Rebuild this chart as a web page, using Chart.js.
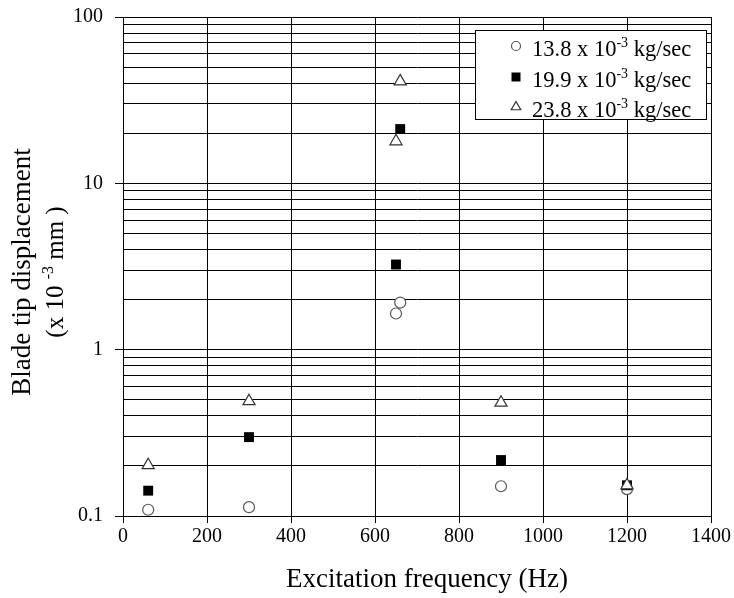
<!DOCTYPE html>
<html><head><meta charset="utf-8">
<script src="https://cdn.jsdelivr.net/npm/chart.js@4"></script>
<style>html,body{margin:0;padding:0;background:#fff}#w{width:734px;height:598px}</style>
</head><body><div id="w"><canvas id="c" width="734" height="598"></canvas></div>
<script>
const frequencies = [60, 300, 650, 660, 900, 1200];
const flow138 = [0.109, 0.113, 1.65, 1.92, 0.151, 0.145];
const flow199 = [0.142, 0.298, 3.25, 21.2, 0.217, 0.153];
const flow238 = [0.202, 0.49, 17.9, 41, 0.48, 0.153];
const seriesLabels = ['13.8 x 10', '19.9 x 10', '23.8 x 10'];
const xTicks = [0, 200, 400, 600, 800, 1000, 1200, 1400];
const yMajor = [0.1, 1, 10, 100];
const xTitle = 'Excitation frequency (Hz)';
const yTitle = 'Blade tip displacement';

const SERIF = '"Liberation Serif", "Times New Roman", serif';
const pts = (ys) => frequencies.map((x, i) => ({x, y: ys[i]}));

const styles = [
  {pointStyle:'circle', pointRadius:5.5, backgroundColor:'#fff', borderColor:'#555', borderWidth:1.2, order:3},
  {pointStyle:'rect', pointRadius:7, backgroundColor:'#000', borderColor:'#000', borderWidth:0, order:2},
  {pointStyle:'triangle', pointRadius:7, backgroundColor:'#fff', borderColor:'#333', borderWidth:1.2, order:1},
];
const series = [flow138, flow199, flow238];

const overlay = {
  id:'overlay',
  afterDraw(chart){
    const ctx = chart.ctx;
    ctx.save();
    ctx.fillStyle='#000'; ctx.textAlign='center'; ctx.textBaseline='middle';
    ctx.font='27px '+SERIF;
    ctx.fillText(xTitle, 427, 580);
    ctx.restore();
    ctx.save();
    ctx.fillStyle = '#000';
    ctx.textAlign = 'center';
    ctx.textBaseline = 'middle';
    ctx.translate(23, 272);
    ctx.rotate(-Math.PI/2);
    ctx.font = '27px ' + SERIF;
    ctx.fillText(yTitle, 0, 0);
    const a = '(x 10 ', b = '-3', c = ' mm )';
    ctx.font = '25px ' + SERIF; const wa = ctx.measureText(a).width, wc = ctx.measureText(c).width;
    ctx.font = '16px ' + SERIF; const wb = ctx.measureText(b).width;
    let x0 = -(wa+wb+wc)/2;
    ctx.textAlign = 'left';
    ctx.font = '25px ' + SERIF; ctx.fillText(a, x0, 33);
    ctx.font = '16px ' + SERIF; ctx.fillText(b, x0+wa, 26);
    ctx.font = '25px ' + SERIF; ctx.fillText(c, x0+wa+wb, 33);
    ctx.restore();

    ctx.save();
    const L=475, T=30, W=231, H=89;
    ctx.fillStyle='#fff'; ctx.fillRect(L,T,W,H);
    ctx.strokeStyle='#000'; ctx.lineWidth=1; ctx.strokeRect(L+0.5,T+0.5,W,H);
    const rowY=[46,77,107];
    const mx=516;
    seriesLabels.forEach((lab,i)=>{
      const s = styles[i], y=rowY[i];
      ctx.fillStyle=s.backgroundColor; ctx.strokeStyle=s.borderColor; ctx.lineWidth=s.borderWidth||0;
      ctx.beginPath();
      if(s.pointStyle==='circle'){ctx.arc(mx,y,4.5,0,Math.PI*2);ctx.fill();ctx.stroke();}
      else if(s.pointStyle==='rect'){ctx.fillRect(mx-4.5,y-4.5,9,9);}
      else {const r=5.5;ctx.moveTo(mx,y-r);ctx.lineTo(mx+r*0.866,y+r*0.5);ctx.lineTo(mx-r*0.866,y+r*0.5);ctx.closePath();ctx.fill();ctx.stroke();}
      ctx.fillStyle='#000'; ctx.textAlign='left'; ctx.textBaseline='middle';
      ctx.font='22.5px '+SERIF; let x=532; ctx.fillText(lab,x,y+4); x+=ctx.measureText(lab).width;
      ctx.font='14px '+SERIF; ctx.fillText('-3',x,y-3); x+=ctx.measureText('-3').width;
      ctx.font='22.5px '+SERIF; ctx.fillText(' kg/sec',x,y+4);
    });
    ctx.restore();
  }
};

new Chart(document.getElementById('c'), {
  type:'scatter',
  data:{datasets: series.map((ys,i)=>Object.assign({label:seriesLabels[i], data:pts(ys)}, styles[i]))},
  options:{
    responsive:false, animation:false, devicePixelRatio:1,
    layout:{padding:{top:17,right:23,left:0,bottom:0}},
    plugins:{legend:{display:false}, tooltip:{enabled:false}},
    scales:{
      x:{type:'linear', min:0, max:1400,
        afterBuildTicks(s){ s.ticks = xTicks.map(v=>({value:v})); },
        afterFit(s){ s.height = 82; s.paddingLeft = 0; s.paddingRight = 0; },
        ticks:{color:'#000', font:{family:SERIF, size:20}, padding:2, maxRotation:0,
          callback(v){ return String(v); }},
        grid:{color:'#000', lineWidth:1, tickLength:7, tickColor:'#000'},
        border:{color:'#000', width:1},
        title:{display:false}
      },
      y:{type:'logarithmic', min:0.1, max:100,
        afterBuildTicks(s){ const t=[]; [0.1,1,10].forEach(d=>{for(let k=1;k<=9;k++) t.push({value:+(d*k).toPrecision(3)});}); t.push({value:100}); s.ticks=t; },
        afterFit(s){ s.width = 123; s.paddingTop = 0; s.paddingBottom = 0; },
        ticks:{color:'#000', font:{family:SERIF, size:20}, autoSkip:false, padding:12,
          callback(v){ return yMajor.some(m=>Math.abs(m-v)<1e-9) ? String(v) : ''; }},
        grid:{color:'#000', lineWidth:1, tickLength:8,
          tickColor(ctx){ const v=ctx.tick&&ctx.tick.value; return yMajor.some(m=>Math.abs(m-v)<1e-9)?'#000':'rgba(0,0,0,0)'; }},
        border:{color:'#000', width:1}
      }
    }
  },
  plugins:[overlay]
});
</script></body></html>
